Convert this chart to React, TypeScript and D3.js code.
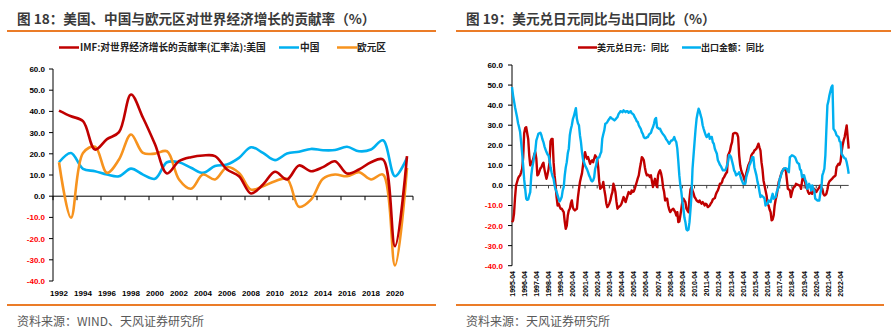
import React from "react";
import * as d3 from "d3";

// ---------- Chart 18 data ----------
const years = d3.range(1992, 2022).map(String);
const usContribution = [40.4, 37.7, 35.4, 22, 26.9, 30.2, 48, 37, 24.5, 10.7, 16.5, 18.4, 19.2, 18.9, 12.6, 9.4, 1.3, 5.5, 11.5, 7.9, 14.5, 11.8, 13.7, 16.5, 10.7, 12.6, 16, 17.3, -23.6, 18.9];
const chinaContribution = [16, 20.4, 12.9, 11.8, 10.2, 9.4, 13, 10.2, 8.2, 16, 16, 13.4, 11, 14.2, 15, 18.1, 23.1, 20.4, 17, 20.1, 21, 22.3, 21.7, 21.8, 23.3, 21.2, 22, 26.4, 9.4, 18.1];
const euroContribution = [16, -10.2, 20.4, 23.3, 11, 17.3, 29.1, 20.4, 20.1, 21.2, 7.9, 3.5, 10.2, 7.9, 13.7, 11, 3.1, 4.7, 7.1, 8.2, -5, -1.6, 8.2, 10.2, 9.4, 11.3, 7.9, 10.2, -32.7, 13.4];
const leftTicks = [60, 50, 40, 30, 20, 10, 0, -10, -20, -30, -40];
const leftYearLabels = years.filter((_, i) => i % 2 === 0);

// ---------- Chart 19 data (monthly, 1995-04 .. 2022-12) ----------
const usdJpyYoY = [
  -18.3, -17.5, -14, -6, 0, 1.7, 3.5, 4.5, 5, 6.5, 8.3, 14,
  26, 28.5, 29, 26, 23, 15, 10, 10.8, 12, 13.3, 15.5, 16.6,
  13.3, 5, 5.5, 7, 8.5, 9.1, 10.5, 11.3, 8, 5.5, 3.3, 5.5,
  8, 11.6, 22, 23.2, 23.2, 11.6, 5, 0, -6, -10, -9.1, -10.5,
  -11.6, -11.6, -12.5, -13.3, -18, -21.6, -20, -15, -12.5, -11.6, -9, -7.5,
  -11, -12, -12.5, -12, -11.6, -6, -2, 1.7, 4, 6, 10, 14,
  16.6, 14.5, 13.3, 14.1, 12.5, 10.8, 12, 12.5, 11.6, 13.3, 15, 14,
  13.3, 9, 2, -1.7, -1, -0.8, 1.7, -2, -5, -9, -10.8, -10,
  -9, -7.5, -5, -3.3, 0.8, -1, -3.3, -8, -11.6, -10.8, -10.5, -10,
  -9.1, -7.5, -5.8, -7, -8.3, -6.6, -5, -3.3, -4, -4.2, -2.5, -3.3,
  -3, -1.7, 0, 1.7, 3.5, 5, 8.3, 11, 14.1, 13.5, 12.5, 9.1,
  6.5, 5, 5.3, 5, 4.2, 5, 2, -0.8, 1.5, 3.3, 0.5, -0.8,
  5, 6.6, 7.5, 6, 3.3, -1, -3.3, -7.5, -6.6, -6.6, -10, -12,
  -13.3, -12.5, -12, -11.6, -12.5, -13.3, -15, -13.3, -18.3, -18, -15, -11.6,
  -8, -6.6, -7.5, -8.3, -11.6, -12.5, -13.3, -6.6, -2, -0.8, -2.5, -4,
  -5.8, -6.5, -7.5, -8, -8.3, -7.5, -8.5, -9.1, -8.3, -9, -10, -9.1,
  -9.5, -10.8, -10.5, -10, -9, -8.3, -7, -6.6, -6.3, -4.5, -3.3, -2.5,
  -1, 0.8, 0.8, 1.5, 3.3, 4, 5, 6, 6.6, 15, 16, 17.4,
  20, 21.6, 25.7, 26, 26.2, 26, 25.7, 24.1, 15, 10, 7.5, 6,
  5, 3, 1.7, 6, 8, 10, 11, 12.5, 15, 15.8, 16.3, 17.4,
  17.8, 18.3, 19.5, 20.8, 19, 17.4, 11.6, 8, 2.5, 0, -2.5, -5,
  -9, -10, -12, -13.3, -17.4, -17, -15, -10, -7, -5, -1.7, 1.7,
  3, 5, 6.5, 7.5, 8.3, 8, 7.5, 3, -1.7, -2, -2.5, -5.8,
  -3.5, -1.7, -0.8, -0.5, 0.8, 0.5, 0.3, 0, 0, -1.7, 2, 5,
  3, 1.7, -1, -1.7, -3.3, -4.2, -3.8, -3.3, -4.2, -3, -1.7, -2.5,
  -3.3, -2.5, -1.7, -1, 0, -1, -1.7, -4.2, -5, -4.8, -4.2, -2,
  0.8, 2, 2.5, 3, 3.5, 4.2, 4.5, 5, 9.1, 10, 10.8, 10.3,
  12, 16.6, 20, 22.4, 24.1, 27, 29.9, 24.1, 18.3,
];
const exportsYoY = [
  49, 45, 42, 39, 36.5, 34, 31, 29, 26.6, 21.6, 16, 10,
  3, -1.7, -6.6, -7.2, -7, -5, -3.3, 5, 9, 11.6, 15, 17.4,
  22.4, 24, 25.7, 26, 26.2, 25, 23, 21.6, 19.5, 18, 16.6, 15.5,
  15, 12.5, 9, 6.6, 4.5, 3.3, 0, -2, -3.3, -5, -6.6, -8,
  -7, -5.8, -2.5, -0.8, 5, 9, 11.6, 16, 18.3, 25, 28, 30,
  33, 34.5, 36.5, 38.5, 33.2, 31, 30, 25, 21.6, 16.6, 13, 11.6,
  10, 9, 8, 6.6, 5, 4, 2.5, 2, 2.5, 4, 8.3, 10,
  13.3, 13.8, 14, 15.5, 16.6, 23.2, 25.5, 27.4, 30.7, 31, 31.6, 32.5,
  33.2, 34, 33.5, 33.2, 32.8, 32.4, 32.9, 33.5, 34, 35.5, 36.2, 37,
  36.8, 36.5, 37.4, 37, 36.5, 37, 37, 36.2, 36.5, 37, 36, 35.7,
  35.2, 34, 33.2, 32, 31.6, 30, 29, 28.2, 26.5, 25.7, 24.1, 23.6,
  23.6, 24, 24.1, 25.2, 25.8, 26.2, 27.9, 29, 30.7, 33, 33.6, 29,
  28.6, 28.2, 28.2, 27, 26.2, 25.5, 24.9, 24.1, 23, 22.4, 21.5, 20.8,
  21.5, 22.4, 22.4, 23, 24.1, 22.5, 21.6, 18.3, 12, 5, 0, -3.3,
  -8, -11.6, -16, -18.3, -21.9, -22.4, -22, -18.3, -12, -5, 8.3, 15,
  21.6, 28, 33.2, 36, 38.2, 37, 35, 33.2, 30, 28.2, 26.6, 25,
  24.1, 25, 25.7, 23.2, 24, 24.1, 21.5, 20.8, 18.3, 17, 15.8, 12.5,
  11.5, 10.3, 9.6, 8.5, 7.5, 7.5, 7.5, 8.3, 10, 11.6, 15, 15,
  14.1, 12, 10, 7.5, 6.6, 5, 5.5, 5.8, 6.6, 5, 3.3, 2,
  0.8, 0.8, 0.8, 4.2, 6, 7.5, 10, 11, 12.5, 14.1, 14.1, 9.1,
  7, 5, 2, 0, -3, -5.8, -5, -5.5, -5.8, -6.6, -10, -9.1,
  -9.1, -7.5, -8, -8.3, -6, -4.2, -6.6, -6.2, -5.8, -3.3, -2, 0,
  3.3, 4.5, 6.6, 7.5, 8.3, 8.6, 8.6, 8.3, 7, 6.6, 14.1, 14.5,
  15, 14.8, 14.5, 14.1, 13, 11.6, 11, 10.8, 8, 7.5, 4.2, 4.5,
  5, 3, 1.7, -1.7, -1, 0.8, -0.5, -2.5, 0, -1.5, -2.5, -6.6,
  -7, -7.5, -7.5, -7.5, -4, -1.7, 5, 6.5, 8.3, 15, 28, 39.9,
  42, 44.9, 47, 49, 49.8, 28.2, 27.5, 26.6, 25, 24.5, 24.1, 22,
  21.6, 15.8, 15, 14.1, 13.5, 13.3, 11.6, 9.1, 5.8,
];
const rightTicks = [60, 50, 40, 30, 20, 10, 0, -10, -20, -30, -40];
const months = d3.utcMonth
  .range(new Date(Date.UTC(1995, 3, 1)), new Date(Date.UTC(2023, 0, 1)))
  .map(d3.utcFormat("%Y-%m"));

const RED = "#C00000";
const BLUE = "#00B0F0";
const ORANGE = "#F7931E";
const RULE = "#EB7C28";
const CJK = "'Noto Sans CJK SC', 'Liberation Sans', sans-serif";
const LAT = "'Liberation Sans', Arial, sans-serif";

function LeftChart() {
  const x = d3.scaleBand().domain(years).range([53, 413]);
  const y = d3.scaleLinear().domain([-40, 60]).range([281, 69]);
  const cx = (yr: string) => (x(yr) as number) + x.bandwidth() / 2;
  const mk = (vals: number[]) =>
    d3
      .line<number>()
      .x((_, i) => cx(years[i]))
      .y((v) => y(v))
      .curve(d3.curveCatmullRom.alpha(0.5))(vals) as string;
  const x0 = 53;
  const tickXs = d3.range(0, years.length + 1, 2).map((i) => 53 + i * x.bandwidth());
  return (
    <g>
      <text x={17} y={23.5} fontFamily={CJK} fontWeight={700} fontSize={13.6} fill="#3a3a3a">
        图 18：美国、中国与欧元区对世界经济增长的贡献率（%）
      </text>
      <line x1={7} x2={436} y1={31} y2={31} stroke={RULE} strokeWidth={2} />
      <g fontFamily={CJK} fontWeight={700} fontSize={9.7} fill="#222">
        <line x1={59} x2={79} y1={47.5} y2={47.5} stroke={RED} strokeWidth={2.5} />
        <text x={80} y={51}>IMF:对世界经济增长的贡献率(汇率法):美国</text>
        <line x1={279} x2={299} y1={47.5} y2={47.5} stroke={BLUE} strokeWidth={2.5} />
        <text x={300} y={51}>中国</text>
        <line x1={337} x2={357} y1={47.5} y2={47.5} stroke={ORANGE} strokeWidth={2.5} />
        <text x={357} y={51}>欧元区</text>
      </g>
      <line x1={x0} x2={x0} y1={y(60)} y2={y(-40)} stroke="#000" strokeWidth={1} />
      {leftTicks.map((t) => (
        <g key={t}>
          <line x1={x0 - 4} x2={x0} y1={y(t)} y2={y(t)} stroke="#000" />
          <text
            x={45}
            y={y(t) + 3}
            textAnchor="end"
            fontFamily={LAT}
            fontWeight={700}
            fontSize={8}
            fill={t < 0 ? "#FF0000" : "#000"}
          >
            {t.toFixed(1)}
          </text>
        </g>
      ))}
      <line x1={x0} x2={413} y1={y(0)} y2={y(0)} stroke="#000" />
      {tickXs.map((tx) => (
        <line key={tx} x1={tx} x2={tx} y1={y(0)} y2={y(0) + 4} stroke="#000" />
      ))}
      {leftYearLabels.map((yr) => (
        <text key={yr} x={cx(yr)} y={296} textAnchor="middle" fontFamily={LAT} fontWeight={700} fontSize={8} fill="#000">
          {yr}
        </text>
      ))}
      <path d={mk(chinaContribution)} fill="none" stroke={BLUE} strokeWidth={2.6} />
      <path d={mk(euroContribution)} fill="none" stroke={ORANGE} strokeWidth={2.6} />
      <path d={mk(usContribution)} fill="none" stroke={RED} strokeWidth={2.6} />
      <line x1={7} x2={436} y1={305} y2={305} stroke={RULE} strokeWidth={2} />
      <text x={17} y={326} fontFamily={CJK} fontSize={12} fill="#595959">
        资料来源：WIND、天风证券研究所
      </text>
    </g>
  );
}

function RightChart() {
  const x = d3.scaleLinear().domain([0, months.length - 1]).range([512, 848.7]);
  const y = d3.scaleLinear().domain([-40, 60]).range([265.7, 65]);
  const mk = (vals: number[]) =>
    d3
      .line<number>()
      .x((_, i) => x(i))
      .y((v) => y(v))(vals) as string;
  const x0 = 512;
  const labelIdx = months.map((_, i) => i).filter((i) => i % 12 === 0);
  return (
    <g>
      <text x={466} y={23.5} fontFamily={CJK} fontWeight={700} fontSize={13.6} fill="#3a3a3a">
        图 19：美元兑日元同比与出口同比（%）
      </text>
      <line x1={456} x2={891} y1={31} y2={31} stroke={RULE} strokeWidth={2} />
      <g fontFamily={CJK} fontWeight={700} fontSize={9} fill="#222">
        <line x1={578} x2={597} y1={47.5} y2={47.5} stroke={RED} strokeWidth={2.5} />
        <text x={597} y={51}>美元兑日元：同比</text>
        <line x1={682} x2={701} y1={47.5} y2={47.5} stroke={BLUE} strokeWidth={2.5} />
        <text x={701} y={51}>出口金额：同比</text>
      </g>
      <line x1={x0} x2={x0} y1={y(60)} y2={y(-40)} stroke="#000" />
      {rightTicks.map((t) => (
        <g key={t}>
          <line x1={x0 - 4} x2={x0} y1={y(t)} y2={y(t)} stroke="#000" />
          <text
            x={503}
            y={y(t) + 3}
            textAnchor="end"
            fontFamily={LAT}
            fontWeight={700}
            fontSize={8}
            fill={t < 0 ? "#FF0000" : "#000"}
          >
            {t.toFixed(1)}
          </text>
        </g>
      ))}
      <line x1={x0} x2={x(months.length - 1)} y1={y(0)} y2={y(0)} stroke="#404040" />
      {labelIdx.map((i) => (
        <g key={i}>
          <line x1={x(i)} x2={x(i)} y1={y(0)} y2={y(0) + 3} stroke="#404040" />
          <text
            transform={`translate(${x(i) + 2.5},271) rotate(-90)`}
            textAnchor="end"
            fontFamily={LAT}
            fontWeight={700}
            fontSize={7}
            fill="#000"
          >
            {months[i]}
          </text>
        </g>
      ))}
      <path d={mk(usdJpyYoY)} fill="none" stroke={RED} strokeWidth={2.4} strokeLinejoin="round" />
      <path d={mk(exportsYoY)} fill="none" stroke={BLUE} strokeWidth={2.4} strokeLinejoin="round" />
      <line x1={456} x2={884} y1={305} y2={305} stroke={RULE} strokeWidth={2} />
      <text x={466} y={326} fontFamily={CJK} fontSize={12} fill="#595959">
        资料来源：天风证券研究所
      </text>
    </g>
  );
}

export default function App() {
  return (
    <svg
      width={891}
      height={332}
      viewBox="0 0 891 332"
      style={{ position: "absolute", left: 0, top: 0, background: "#fff" }}
    >
      <rect width={891} height={332} fill="#fff" />
      <LeftChart />
      <RightChart />
    </svg>
  );
}
